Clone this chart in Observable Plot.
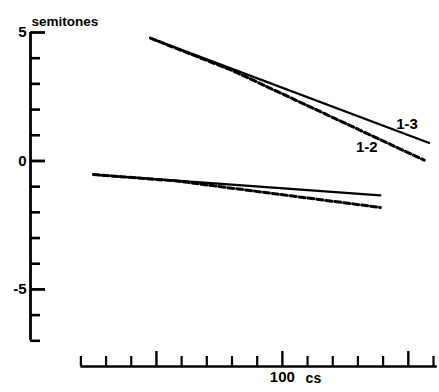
<!DOCTYPE html>
<html>
<head>
<meta charset="utf-8">
<script src="https://cdn.jsdelivr.net/npm/d3@7"></script>
<script src="https://cdn.jsdelivr.net/npm/@observablehq/plot@0.6"></script>
<style>
  html, body { margin: 0; padding: 0; background: #fff; }
  #chart svg { display: block; }
</style>
</head>
<body>
<div id="chart"></div>
<script>
// ---- data ----
const yMajorTicks = [5, 0, -5];
const yMinorTicks = [-7, -6, -4, -3, -2, -1, 1, 2, 3, 4];
const xMinorTicks = [20, 30, 40, 60, 70, 80, 90, 110, 120, 130, 140, 160];
const xMajorTicks = [50, 100, 150];
const xLabelTicks = [100];
const xUnit = "cs";
const yUnit = "semitones";

// upper pair of contours
const upperTime13 = [47.6, 158.3];
const upperVal13  = [4.78, 0.70];
const upperTime12 = [47.6, 80.6, 156.3];
const upperVal12  = [4.78, 3.50, 0.03];
// lower pair of contours
const lowerTime13 = [25.0, 138.9];
const lowerVal13  = [-0.53, -1.34];
const lowerTime12 = [25.0, 58.0, 138.9];
const lowerVal12  = [-0.53, -0.78, -1.81];

const seriesLabels = ["1-3", "1-2"];
const labelTime = [149.5, 133.5];
const labelVal  = [1.45, 0.55];

// ---- build tables ----
function rows(times, vals, series, group) {
  return times.map((t, i) => ({ t, v: vals[i], series, group }));
}
const solid = [
  ...rows(upperTime13, upperVal13, "1-3", "upper-13"),
  ...rows(lowerTime13, lowerVal13, "1-3", "lower-13")
];
const dashed = [
  ...rows(upperTime12, upperVal12, "1-2", "upper-12"),
  ...rows(lowerTime12, lowerVal12, "1-2", "lower-12")
];
const labels = seriesLabels.map((s, i) => ({ s, t: labelTime[i], v: labelVal[i] }));

const font = "'Liberation Sans', Arial, Helvetica, sans-serif";

const chart = Plot.plot({
  width: 439,
  height: 392,
  marginLeft: 30,
  marginRight: 6,
  marginTop: 32,
  marginBottom: 26,
  style: { fontFamily: font, background: "#fff", color: "#000" },
  x: { domain: [0, 160], label: null },
  y: { domain: [-8, 5], label: null },
  marks: [
    // y axis line
    Plot.ruleX([0], { y1: -7, y2: 5, stroke: "#000", strokeWidth: 2.8 }),
    // x axis line
    Plot.ruleY([-8], { x1: 20, x2: 161.5, stroke: "#000", strokeWidth: 2.6 }),
    // y ticks (inward)
    Plot.axisY(yMinorTicks, { anchor: "left", tickSize: -10, tickFormat: () => "", strokeWidth: 2.6, label: null }),
    Plot.axisY(yMajorTicks, { anchor: "left", tickSize: -15, tickFormat: () => "", strokeWidth: 2.8, label: null }),
    Plot.text(yMajorTicks, { x: 0, y: d => d, text: d => String(d), textAnchor: "end", dx: -4, fontSize: 15, fontWeight: "bold", fill: "#000" }),
    // x ticks (upward)
    Plot.axisX(xMinorTicks, { anchor: "bottom", tickSize: -10, tickFormat: () => "", strokeWidth: 2.2, label: null }),
    Plot.axisX(xMajorTicks, { anchor: "bottom", tickSize: -15, tickFormat: () => "", strokeWidth: 2.4, label: null }),
    Plot.text(xLabelTicks, { x: d => d, y: -8, text: d => String(d), dy: 11, fontSize: 15, fontWeight: "bold", fill: "#000" }),
    Plot.text([xUnit], { x: xLabelTicks[0], y: -8, text: d => d, dy: 12, dx: 31, fontSize: 14, fontWeight: "bold", fill: "#000" }),
    // y unit label
    Plot.text([yUnit], { x: 0, y: 5, text: d => d, dy: -11, dx: 1, textAnchor: "start", fontSize: 13.5, fontWeight: "bold", fill: "#000" }),
    // contours
    Plot.line(solid, { x: "t", y: "v", z: "group", stroke: "#000", strokeWidth: 2.2 }),
    Plot.line(dashed, { x: "t", y: "v", z: "group", stroke: "#000", strokeWidth: 3, strokeDasharray: "6,3" }),
    Plot.text(labels, { x: "t", y: "v", text: "s", fontSize: 15, fontWeight: "bold", fill: "#000" })
  ]
});

document.getElementById("chart").appendChild(chart);
</script>
</body>
</html>
